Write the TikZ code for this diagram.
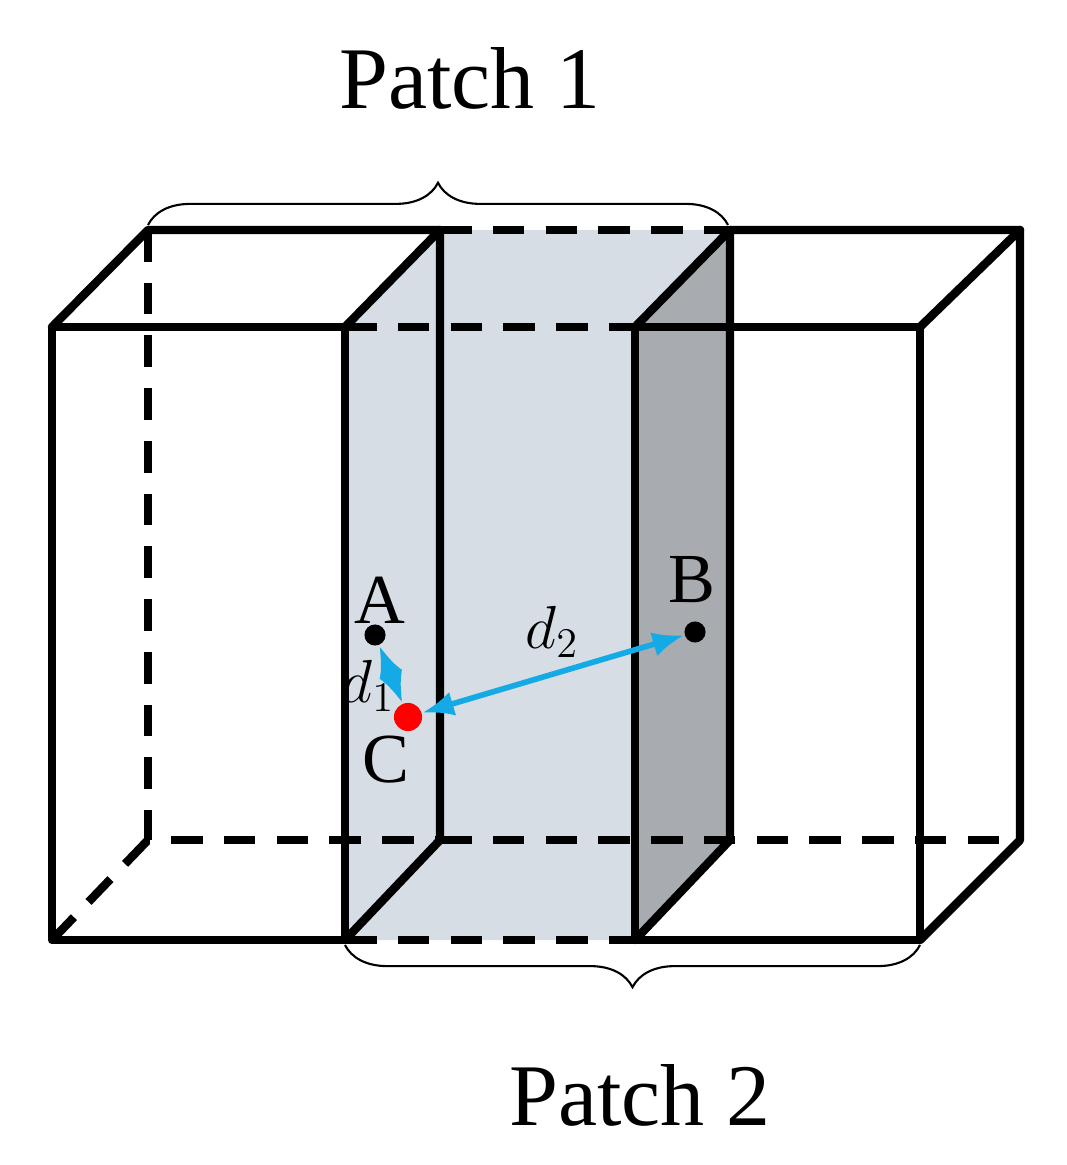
\documentclass[tikz,border=0pt]{standalone}
\usepackage{fontspec}
\setmainfont{Liberation Serif}
\usetikzlibrary{decorations.pathreplacing,arrows.meta}
\definecolor{lightpatch}{RGB}{215,221,228}
\definecolor{darkpatch}{RGB}{168,172,176}
\definecolor{arrowblue}{RGB}{20,170,230}
\tikzset{
  edge/.style={line width=2.4pt,line cap=round,line join=round},
  hidden/.style={edge,dash pattern=on 9pt off 6pt,line cap=butt},
  brc/.style={decorate,decoration={brace,amplitude=12pt},line width=0.6pt},
  dist/.style={arrowblue,line width=1.6pt,{Latex[length=9pt,width=7pt]}-{Latex[length=9pt,width=7pt]}},
  dot/.style={circle,fill,inner sep=0pt,minimum size=6pt},
  lbl/.style={font=\fontsize{20}{20}\selectfont}
}
\begin{document}
\begin{tikzpicture}[x=0.01cm,y=-0.01cm]
\useasboundingbox (0,0) rectangle (1066,1165);
% shading of the middle box
\fill[lightpatch] (345,327) -- (440,230) -- (730,230) -- (730,840) -- (635,940) -- (345,940) -- cycle;
\fill[darkpatch] (635,327) -- (730,230) -- (730,840) -- (635,940) -- cycle;
% hidden edges
\draw[hidden] (148,230) -- (148,840) -- (440,840);
\draw[hidden] (52,940) -- (148,840);
\draw[hidden] (440,230) -- (730,230);
\draw[hidden] (345,327) -- (635,327);
\draw[hidden] (345,940) -- (635,940);
\draw[hidden] (440,840) -- (730,840) -- (1020,840);
% visible edges
\draw[edge] (345,327) -- (52,327) -- (52,940) -- (345,940) -- cycle;
\draw[edge] (52,327) -- (148,230) -- (440,230) -- (440,840) -- (345,940);
\draw[edge] (345,327) -- (440,230);
\draw[edge] (635,327) -- (920,327) -- (920,940) -- (635,940) -- cycle;
\draw[edge] (635,327) -- (730,230) -- (1020,230) -- (1020,840) -- (920,940);
\draw[edge] (920,327) -- (1020,230);
\draw[edge] (730,230) -- (730,840) -- (635,940);
% braces
\draw[brc] (148,225) -- (728,225);
\node[lbl,font=\fontsize{25}{25}\selectfont] (p1) at (470,78) {Patch 1};
\draw[brc] (920,945) -- (345,945);
\node[lbl,font=\fontsize{25}{25}\selectfont] (p2) at (640,1095) {Patch 2};
% points
\node[dot] (A) at (375,635) {};
\node[dot] (B) at (695,632) {};
\node[dot,red,minimum size=8pt] (C) at (408,717) {};
\node[lbl] at (380,600) {A};
\node[lbl] at (692,580) {B};
\node[lbl] at (386,760) {C};
\draw[dist] (A) -- (C);
\draw[dist] (C) -- (B);
\node[lbl,font=\fontsize{17}{17}\selectfont] at (368,686) {$d_1$};
\node[lbl,font=\fontsize{17}{17}\selectfont] at (552,632) {$d_2$};
\end{tikzpicture}
\end{document}
